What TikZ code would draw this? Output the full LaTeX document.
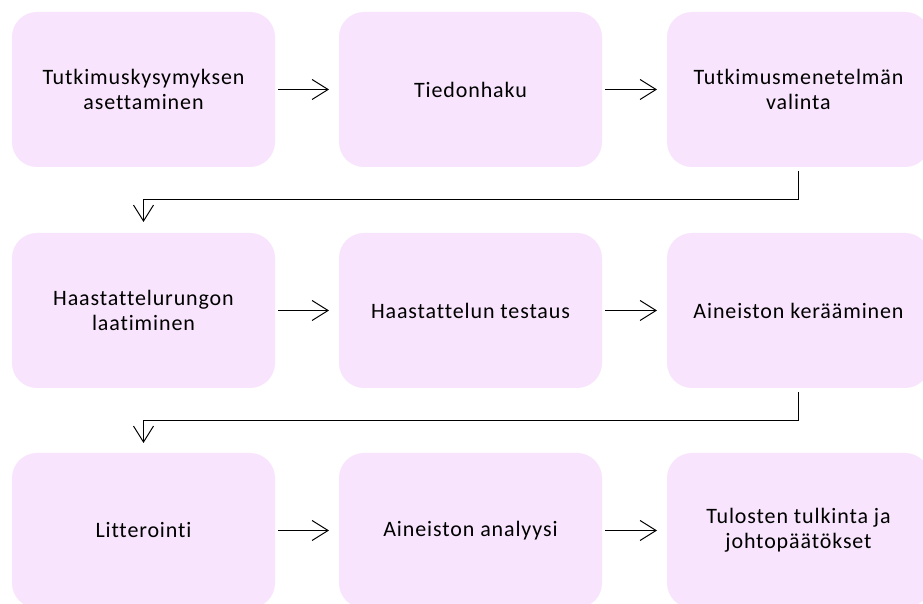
\documentclass[tikz,border=0pt]{standalone}
\usepackage{fontspec}
\setmainfont[Ligatures=NoCommon]{Carlito}
\usetikzlibrary{arrows.meta}

\tikzset{
  stepbox/.style={fill=boxColor,draw=none,rounded corners=25pt,
    minimum width=263pt,minimum height=155pt,inner sep=0pt,outer sep=0pt,
    align=center,text=black,font=\fontsize{22}{25.5}\selectfont\addfontfeature{LetterSpace=4}},
  flow/.style={draw=black,line width=1pt,-{Straight Barb[length=16pt,width=20pt,line width=1pt]}}
}

\begin{document}
\begin{tikzpicture}[x=1pt,y=1pt]
\definecolor{boxColor}{RGB}{248,228,252}
\path[use as bounding box,fill=white] (0,0) rectangle (923,604);
\begin{scope}
\path[clip] (0,0) rectangle (923,604);

% boxes, row by row
\node[stepbox] (kysymys) at (143.5,514.5) {Tutkimuskysymyksen\\asettaminen};
\node[stepbox] (haku) at (470.5,514.5) {Tiedonhaku};
\node[stepbox] (menetelma) at (798.5,514.5) {Tutkimusmenetelmän\\valinta};

\node[stepbox] (runko) at (143.5,293.5) {Haastattelurungon\\laatiminen};
\node[stepbox] (testaus) at (470.5,293.5) {Haastattelun testaus};
\node[stepbox] (keruu) at (798.5,293.5) {Aineiston kerääminen};

\node[stepbox] (litterointi) at (143.5,73.5) {Litterointi};
\node[stepbox] (analyysi) at (470.5,73.5) {Aineiston analyysi};
\node[stepbox] (tulokset) at (798.5,73.5) {Tulosten tulkinta ja\\johtopäätökset};

% connectors
\draw[flow,shorten <=3pt,shorten >=10pt] (kysymys) -- (haku);
\draw[flow,shorten <=3pt,shorten >=10pt] (haku) -- (menetelma);
\draw[flow,shorten <=4pt,shorten >=11pt] (menetelma.south) -- ++(0,-33) -| (runko.north);

\draw[flow,shorten <=3pt,shorten >=10pt] (runko) -- (testaus);
\draw[flow,shorten <=3pt,shorten >=10pt] (testaus) -- (keruu);
\draw[flow,shorten <=4pt,shorten >=10pt] (keruu.south) -- ++(0,-33) -| (litterointi.north);

\draw[flow,shorten <=3pt,shorten >=10pt] (litterointi) -- (analyysi);
\draw[flow,shorten <=3pt,shorten >=10pt] (analyysi) -- (tulokset);
\end{scope}
\end{tikzpicture}
\end{document}
